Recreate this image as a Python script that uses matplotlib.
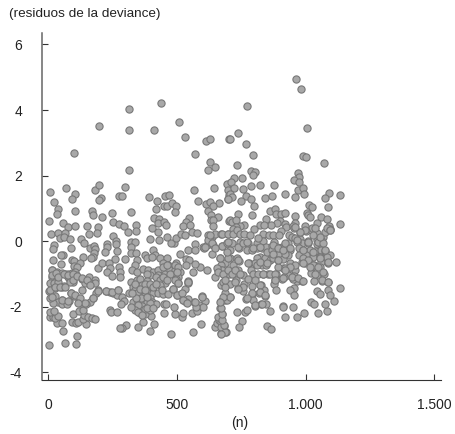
import matplotlib
matplotlib.use('Agg')
import matplotlib.pyplot as plt

plt.rcParams['font.family'] = ['Liberation Sans', 'DejaVu Sans']
plt.rcParams['axes.unicode_minus'] = False

x_ticks = [0, 500, 1000, 1500]
x_labels = ['0', '500', '1.000', '1.500']
y_ticks = [-4, -2, 0, 2, 4, 6]
y_labels = ['-4', '-2', '0', '2', '4', '6']

# upper part (y > 0.3)
upper_n = [436,314,506,196,314,409,531,613,629,702,99,572,629,646,619,312,6,68,20,102,93,38,32,103,2,56,76,104,150,194,180,195,204,198,169,174,208,247,252,273,292,323,340,298,275,287,392,421,453,470,450,461,480,497,419,492,410,431,427,448,456,404,546,535,524,552,567,583,644,694,700,703,697,663,614,629,640,620,633,660,632,642,640,703,
           964,983,772,1007,736,705,769,797,989,1003,1071,734,789,803,794,970,974,955,973,720,753,712,723,786,824,878,756,969,991,705,714,698,768,786,749,843,868,920,960,996,1090,1075,1134,800,1013,1027,1088,863,882,885,903,919,961,1004,1011,1018,1061,1084,737,790,706,714,728,847,961,902,890,867,823,838,760,745,731,922,925,998,1046,1026,1135,1090,1097,798,950,719]
upper_y = [4.22,4.03,3.64,3.5,3.4,3.4,3.17,3.06,3.13,3.11,2.69,2.66,2.4,2.27,2.16,2.16,1.49,1.61,1.2,1.43,1.29,.97,.83,.93,.6,.55,.43,.47,.46,.43,1.56,1.71,1.31,1.24,.91,.81,.74,.85,.57,.52,.47,.88,.49,1.65,1.38,1.39,1.34,1.22,1.39,1.4,1.08,1.07,1.16,1.08,.97,.88,.69,.67,.56,.59,.48,.39,.71,.57,.46,.49,1.57,1.21,1.61,1.73,1.56,1.42,1.28,1.17,1.13,1.18,1.07,.93,.8,.72,.64,.65,.47,.62,
           4.96,4.64,4.12,3.46,3.31,3.12,2.96,2.64,2.59,2.56,2.38,2.31,2.15,2.1,2.01,2.08,1.97,1.85,1.8,1.93,1.91,1.81,1.61,1.67,1.71,1.71,1.58,1.57,1.62,1.43,1.35,1.28,1.37,1.27,1.21,1.31,1.39,1.43,1.34,1.43,1.48,1.31,1.4,1.07,1.1,1.03,1.04,.91,.99,.83,.84,.85,.78,.85,.79,.73,.74,.68,.83,.79,.64,.59,.64,.66,.56,.6,.54,.5,.48,.48,.48,.46,.44,.53,.44,.47,.54,.41,.53,.47,.38,.36,.46,.37]

# lower left part of the cloud
left_n = [4,63,108,111,58,34,54,8,16,27,38,6,21,90,107,116,146,133,139,155,169,181,94,117,135,240,243,266,301,288,279,349,366,396,409,476,562,594,397,375,355,449,491,519,524,557,579,487,449,457,597,610,587,567,602,574,544,535,522,514,501,532,543,541,
          649,654,664,677,667,670,686,699,673,689,684,673,661,670,
          10,36,64,45,62,84,159,187,250,261,308,342,396,427,431,462,488,475,495,514,530,558,578,622,635,648,673,699,628,615,602,639,677,693,
          21,19,87,126,139,161,177,183,229,226,220,178,174,165,135,58,47,16,50,90,99,100,122,113,262,265,257,296,320,336,323,320,339,343,336,375,384,408,414,401,434,460,447,466,495,511,535,548,544,572,570,589,570,615,607,635,667,686,706,673,693,673,661,648,
          12,32,51,64,77,90,103,109,96,77,12,29,194,207,237,239,229,246,275,278,278,326,343,369,388,408,427,453,473,492,511,505,488,563,537,427,395,382,
          8,21,38,51,62,25,3,12,25,96,84,132,157,181,142,161,183,129,194,185,222,239,252,272,268,285,294,281,174,161,146,86,100,120,125,81,54,38,54,71,19,8,323,343,356,384,327,343,362,382,336,366,388,408,427,447,466,356,375,395,330,349,369,384,401,418,345,362,375,395,418,434,453,434,485,505,498]
left_y = [-3.16,-3.11,-3.13,-2.91,-2.75,-2.51,-2.51,-2.31,-2.31,-2.34,-2.28,-2.16,-2.13,-2.46,-2.49,-2.46,-2.52,-2.38,-2.26,-2.31,-2.36,-2.38,-2.23,-2.14,-2.11,-2.11,-2.17,-2.15,-2.55,-2.64,-2.65,-2.63,-2.48,-2.73,-2.53,-2.83,-2.79,-2.53,-2.3,-2.24,-2.21,-2.18,-2.23,-2.31,-2.19,-2.2,-2.13,-2.0,-1.92,-1.92,-1.69,-1.83,-1.96,-1.87,-2.0,-2.0,-1.77,-1.87,-1.8,-1.62,-1.64,-1.46,-1.22,-1.27,
          -2.62,-2.5,-2.41,-2.24,-2.04,-1.83,-1.8,-1.72,-2.82,-2.77,-2.59,-2.46,-2.31,-2.62,
          .21,.25,.25,.08,.13,.05,.23,.26,.15,.01,.29,.31,.06,.29,.03,.13,-.07,-.07,.08,.21,.17,.27,.25,.18,.13,.21,.21,.21,.03,-.12,-.17,-.12,-.15,-.07,
          -.12,-.25,-.22,.06,-.05,-.22,-.15,-.25,-.09,-.19,-.33,-.35,-.48,-.53,-.5,-.42,-.43,-.58,-.71,-.58,-.6,-.75,-.68,-.78,-.1,-.3,-.54,-.54,-.02,-.04,-.19,-.35,-.36,-.58,-.73,-.41,-.53,-.26,-.43,-.5,-.53,-.53,-.68,-.73,-.68,-.38,-.56,-.58,-.28,-.09,-.28,-.78,-.71,-.89,-.22,-.38,-.53,-.68,-.53,-.73,-.94,-.89,-.89,-1.09,
          -.87,-.94,-.97,-1.0,-1.0,-.97,-.94,-1.04,-1.09,-1.11,-1.09,-1.11,-.83,-.68,-.68,-.83,-.94,-1.07,-.78,-.94,-1.11,-.89,-.94,-.84,-.89,-.94,-.87,-1.0,-.89,-.89,-.94,-1.09,-1.04,-.94,-.73,-1.04,-1.04,-.99,
          -1.29,-1.27,-1.24,-1.4,-1.37,-1.42,-1.52,-1.7,-1.68,-1.24,-1.19,-1.16,-1.09,-1.19,-1.29,-1.29,-1.29,-1.5,-1.5,-1.6,-1.52,-1.55,-1.6,-1.48,-1.65,-1.7,-1.83,-1.93,-1.75,-1.85,-1.92,-1.57,-1.68,-1.78,-1.9,-1.83,-1.8,-1.87,-1.92,-1.92,-1.9,-1.75,-1.24,-1.19,-1.17,-1.21,-1.4,-1.45,-1.34,-1.4,-1.5,-1.55,-1.6,-1.6,-1.6,-1.62,-1.62,-1.68,-1.65,-1.75,-1.85,-1.85,-1.82,-1.85,-1.85,-1.93,-2.01,-1.99,-2.06,-2.09,-1.09,-1.19,-1.29,-1.34,-1.45,-1.29,-1.17]

# lower right part of the cloud
right_n = [686,673,683,676,676,670,708,693,686,673,680,
           676,699,719,732,747,760,784,833,859,874,904,898,935,955,978,1001,946,959,978,1008,1043,1069,1075,1046,1062,1084,1097,
           677,696,712,745,777,812,836,816,878,907,933,985,968,1011,1043,1056,742,706,771,793,810,829,848,868,890,916,939,974,991,1017,1036,1059,1075,1097,855,874,898,933,974,1001,1030,1056,1082,1119,823,810,842,861,894,913,699,732,742,781,803,829,848,939,913,952,985,998,1014,1033,1062,1088,1056,1027,719,738,721,693,677,703,758,788,797,816,833,855,884,926,939,959,955,933,916,907,881,968,987,950,1023,1043,1071,1034,1065,1086,728,708,760,777,738,758,790,825,877,887,839,820,793,842,769,795,802,826,845,861,912,950,994,968,922,1047,1083,1077,1112,1136,1087,1094,1043,1057,1023,1033,956,939,957,732,764,772,754,741,849,864]
right_y = [-2.79,-2.84,-2.57,-2.41,-2.24,-2.03,-1.7,-1.8,-1.58,-1.34,-1.24,
           .21,.21,.23,.34,.21,.21,.18,.23,.18,.2,.31,.18,.2,.39,.28,.31,.13,.08,.05,.01,.25,.13,.28,.03,.03,.39,.34,
           -.15,-.07,-.05,-.02,-.05,-.07,.01,.08,-.02,-.17,-.05,-.07,-.02,-.07,-.09,-.05,-.22,-.26,-.26,-.26,-.22,-.22,-.17,-.15,-.17,-.3,-.26,-.22,-.28,-.28,-.3,-.28,-.3,-.43,-.38,-.41,-.38,-.43,-.43,-.43,-.48,-.48,-.5,-.64,-.48,-.53,-.53,-.58,-.58,-.56,-.53,-.53,-.6,-.68,-.68,-.73,-.73,-.68,-.83,-.78,-.63,-.68,-.63,-.73,-.63,-.68,-.8,-.78,-.73,-.89,-1.0,-.96,-.89,-.99,-1.04,-.89,-.99,-.99,-.99,-1.02,-1.02,-.89,-.94,-.89,-1.07,-1.04,-1.11,-1.17,-1.19,-1.22,-1.22,-1.17,-.96,-1.04,-1.0,-1.21,-1.22,-1.26,-1.19,-1.32,-1.32,-1.17,-1.42,-1.53,-1.37,-1.34,-1.32,-1.5,-1.5,-1.57,-1.62,-1.68,-1.77,-1.8,-1.98,-1.93,-1.91,-2.13,-1.99,-2.02,-2.18,-2.32,-2.31,-2.21,-2.12,-1.91,-1.82,-1.43,-1.48,-1.66,-1.51,-1.61,-1.87,-1.91,-1.43,-1.5,-1.64,-2.15,-2.15,-2.1,-2.44,-2.61,-2.58,-2.67]

# extra points from the dense band
dense_n = [12,12,29,38,60,77,97,84,97,112,129,149,161,6,25,45,64,12,86,103,123,142,51,77,116,174,194,224,246,272,
           315,335,345,355,375,375,395,395,360,340,325,350,385,405,420,440,335,350,365,385,405,320,
           447,460,473,447,460,492,505,499,492,505,486,501,518,525,544,538,570,596,
           609,622,628,635,648,667,693,713,700,739,758,774,797,823,849,868,901,920,
           654,661,680,700,713,726,745,739,778,810,823,849,875,894,920,836,862,881,881,823,803,758,739,726,687,687,706,680,667,790,823,843,771,803,829,914,
           874,874,894,913,920,939,965,991,1011,1030,1050,1069,991,1011,1030,1056,1075,1088,1050,1017,991,959,939,920,946,972,991,913,1037,1069,1063,1088,894,1037,1056,1095,1030,998,978,959]
dense_y = [-.89,-1.04,-.97,-1.11,-.99,-1.04,-.99,-1.24,-1.19,-1.07,-1.14,-1.19,-1.34,-1.5,-1.39,-1.39,-1.39,-1.7,-1.58,-1.65,-1.75,-1.9,-1.8,-1.82,-1.9,-1.75,-1.52,-1.52,-1.55,-1.5,
           -1.6,-1.3,-1.6,-1.45,-1.3,-1.5,-1.3,-1.9,-1.75,-1.75,-1.6,-1.95,-1.7,-1.4,-1.3,-1.5,-2.1,-2.15,-2.25,-2.05,-2.05,-2.0,
           -.78,-.73,-.99,-1.09,-1.19,-.73,-.78,-.94,-1.19,-1.29,-1.45,-1.65,-1.6,-1.8,-1.24,-1.9,-1.85,-1.7,
           -.17,.03,.18,-.07,-.22,-.53,-.33,-.07,-.02,-.17,-.07,-.02,-.22,-.17,-.33,-.27,-.22,-.38,
           -.83,-.94,-.99,-.89,-.99,-.89,-.99,-.58,-.68,-.73,-.63,-.68,-.53,-.78,-.83,-.99,-.99,-.99,-1.19,-1.34,-1.19,-1.39,-1.45,-1.24,-1.39,-1.19,-1.7,-1.7,-1.85,-1.6,-1.55,-1.65,-1.75,-1.95,-1.92,-2.0,
           -.12,-.38,-.22,-.28,-.07,-.22,.03,-.28,-.02,-.33,-.02,-.07,-.53,-.58,-.73,-.53,-.28,-.63,-.78,-.78,-.68,-.73,-.78,-.89,-1.09,-1.14,-1.21,-1.14,-.99,-.94,-1.19,-1.24,-.58,.39,.13,.34,.18,.34,.29,.44]

fig = plt.figure(figsize=(4.55, 4.34), dpi=100)
ax = fig.add_axes([41.5 / 455, 1 - 380 / 434, 399.5 / 455, 347 / 434])

for n_vals, y_vals in [(upper_n, upper_y), (left_n, left_y), (right_n, right_y), (dense_n, dense_y)]:
    ax.scatter(n_vals, y_vals, s=27, color='#a8a8a8', edgecolor='#787878', linewidth=0.8, clip_on=False)

ax.set_xlim(-27, 1527)
ax.set_ylim(-4.24, 6.35)
ax.set_xticks(x_ticks, x_labels)
ax.set_yticks(y_ticks, y_labels)
ax.tick_params(axis='x', direction='in', length=4, width=0.8, color='#333333', pad=13, labelsize=10, labelcolor='#222222')
ax.tick_params(axis='y', direction='in', length=4, width=0.8, color='#333333', pad=14, labelsize=10, labelcolor='#222222')

ax.spines['top'].set_visible(False)
ax.spines['right'].set_visible(False)
ax.spines['left'].set_color('#666666')
ax.spines['left'].set_linewidth(1.1)
ax.spines['bottom'].set_color('#333333')
ax.spines['bottom'].set_linewidth(0.8)

fig.text(9 / 455, 1 - 14.5 / 434, '(residuos de la deviance)', fontsize=9.7, color='#222222', va='center', ha='left')
fig.text(239.5 / 455, 1 - 423 / 434, '(n)', fontsize=10, color='#222222', va='center', ha='center')

plt.savefig('out.png', dpi=100)
plt.close()
print(len(upper_n), len(upper_y), len(left_n), len(left_y), len(right_n), len(right_y), len(dense_n), len(dense_y))
